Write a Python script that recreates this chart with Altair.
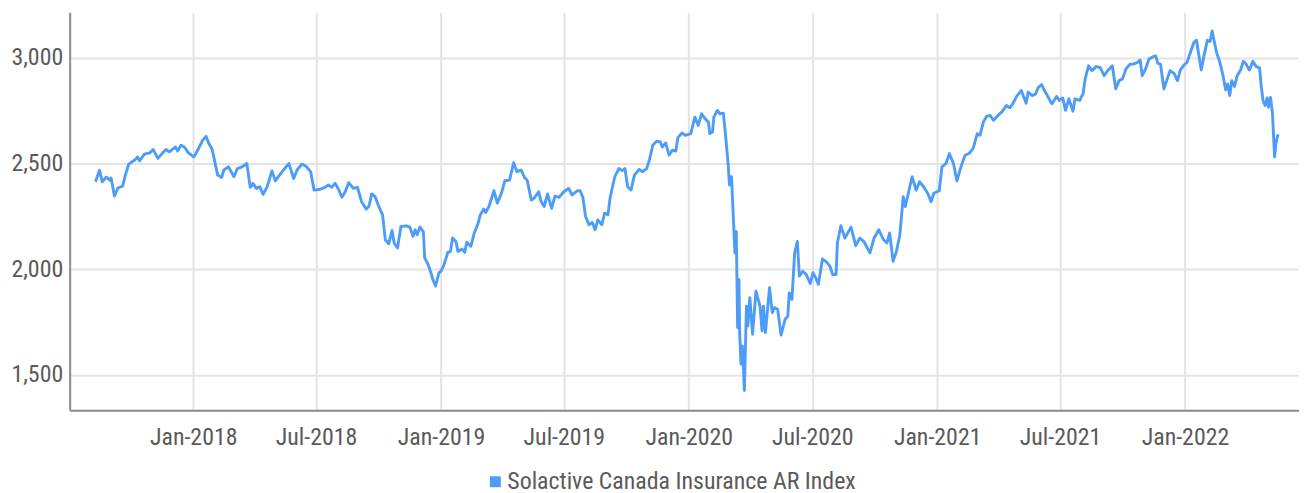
import altair as alt
import pandas as pd

# Day offsets from 2018-01-01 and the index level on each day
day_offsets = [
    -144, -138, -134, -128, -123, -121, -116, -111, -104, -100, -95, -86, -82, -79, -72, -64, -59, -52, -45, -40,
    -35, -26, -23, -18, -13, -7, 1, 6, 14, 19, 23, 28, 36, 42, 45, 52,
    60, 65, 72, 79, 84, 88, 93, 98, 103, 109, 116, 121, 126, 131, 141, 148, 153, 160, 167, 173,
    178, 187, 194, 199, 204, 209, 214, 219, 224, 229, 236, 242, 248, 255, 259, 263, 268, 273, 279,
    283, 288, 293, 296, 301, 306, 314, 319, 324, 327, 330, 334, 339, 341, 346, 351, 353, 357, 362, 365,
    369, 375, 379, 382, 387, 390, 396, 400, 403, 409, 414, 419, 423, 428, 431, 436, 443, 448, 454, 459,
    466, 472, 477, 483, 488, 492, 498, 502,
    509, 512, 517, 522, 528, 533, 539, 546, 553, 558, 566, 570, 574, 578, 583, 588, 592, 596, 602, 606,
    611, 614, 621, 627, 632, 636, 640, 645, 650, 657, 662, 668, 672, 677, 683, 688, 691, 696, 701, 706,
    711, 714, 720, 725, 733,
    739, 744, 749, 754, 759, 761, 765, 767, 772, 776, 781, 784, 788, 790, 793, 795, 798, 800, 802, 804,
    805, 807, 809, 812, 815, 817, 820, 824, 829, 835, 838, 840, 843, 849, 853, 856, 861, 866, 872, 876,
    878, 882, 886, 890, 893, 898, 903, 909, 913, 917, 921, 927, 932, 938, 942, 947, 949, 954, 960,
    969, 976, 982, 988, 997, 1003, 1010, 1017, 1022, 1026, 1031, 1036, 1041, 1046, 1049, 1054, 1059, 1065, 1070, 1076,
    1082, 1087, 1091, 1099, 1103, 1109, 1114, 1120, 1125, 1131, 1137, 1143, 1149, 1155, 1159, 1164, 1169, 1174, 1179, 1187,
    1191, 1198, 1203, 1208, 1213, 1220, 1227, 1230, 1236, 1241, 1245, 1250, 1254, 1259, 1265, 1272, 1276, 1281, 1285, 1290,
    1296, 1299, 1306, 1311, 1314, 1319, 1324, 1330, 1336, 1342, 1347, 1354, 1359, 1364, 1369, 1374, 1380, 1385, 1391, 1395,
    1398, 1403, 1408, 1414,
    1418, 1421, 1425, 1430, 1435, 1439, 1445, 1450, 1454, 1460, 1464, 1469, 1474, 1478, 1482, 1485, 1489, 1494, 1498, 1501,
    1505, 1508, 1512, 1516, 1518, 1521, 1524, 1527, 1530, 1534, 1538, 1543, 1547, 1551, 1556, 1561, 1566, 1571, 1573, 1576,
    1579, 1582, 1584, 1587, 1590, 1593, 1595, 1598,
]

index_values = [
    2413, 2468, 2413, 2436, 2421, 2431, 2346, 2384, 2393, 2445, 2497, 2516, 2531, 2512, 2544, 2550, 2566, 2524, 2550, 2566,
    2555, 2578, 2559, 2586, 2578, 2550, 2531, 2559, 2610, 2628, 2594, 2566, 2445, 2434, 2469, 2484,
    2437, 2476, 2484, 2500, 2387, 2406, 2382, 2390, 2354, 2390, 2465, 2417, 2440, 2461, 2500, 2429, 2469, 2497, 2484, 2461,
    2374, 2378, 2387, 2398, 2387, 2406, 2378, 2340, 2366, 2409, 2382, 2387, 2319, 2284, 2299, 2356, 2343, 2299, 2257,
    2139, 2120, 2183, 2124, 2100, 2202, 2205, 2199, 2155, 2186, 2163, 2199, 2178, 2053, 2022, 1975, 1951, 1920, 1983, 1990,
    2017, 2079, 2084, 2147, 2131, 2084, 2095, 2079, 2127, 2108, 2171, 2210, 2257, 2284, 2268, 2299, 2371, 2312, 2359, 2418,
    2421, 2503, 2461, 2469, 2434, 2421, 2327, 2335,
    2366, 2324, 2296, 2356, 2288, 2346, 2340, 2366, 2382, 2351, 2371, 2371, 2340, 2249, 2210, 2221, 2186, 2233, 2210, 2265,
    2257, 2335, 2437, 2476, 2466, 2476, 2390, 2374, 2445, 2472, 2461, 2476, 2516, 2586, 2606, 2602, 2578, 2597, 2539, 2563,
    2559, 2622, 2644, 2633, 2641,
    2719, 2680, 2735, 2712, 2696, 2641, 2649, 2719, 2751, 2735, 2738, 2641, 2500, 2398, 2437, 2296, 2077, 2178, 1724, 1951,
    1700, 1551, 1637, 1426, 1825, 1731, 1865, 1692, 1896, 1825, 1708, 1825, 1700, 1912, 1794, 1818, 1810, 1688, 1763, 1778,
    1888, 1857, 2077, 2131, 1967, 1990, 1975, 1932, 1983, 1959, 1928, 2048, 2037, 2014, 1975, 1975, 2124, 2205, 2147,
    2199, 2111, 2147, 2131, 2077, 2147, 2186, 2139, 2124, 2171, 2037, 2084, 2163, 2343, 2296, 2366, 2437, 2374, 2413, 2390,
    2359, 2319, 2359, 2371, 2484, 2500, 2547, 2500, 2418, 2484, 2539, 2547, 2571, 2641, 2633, 2696, 2723, 2727, 2704, 2732,
    2743, 2774, 2763, 2785, 2817, 2845, 2785, 2837, 2821, 2829, 2860, 2873, 2845, 2817, 2782, 2817, 2798, 2810, 2751, 2806,
    2747, 2806, 2798, 2832, 2900, 2962, 2939, 2958, 2954, 2915, 2939, 2962, 2853, 2892, 2900, 2947, 2970, 2970, 2978, 2989,
    2915, 2947, 2994, 3005,
    3009, 2973, 2970, 2853, 2900, 2939, 2926, 2892, 2942, 2967, 2978, 3025, 3072, 3083, 3001, 2942, 3009, 3083, 3077, 3127,
    3064, 3020, 2983, 2931, 2900, 2848, 2876, 2821, 2892, 2864, 2915, 2942, 2983, 2970, 2942, 2983, 2958, 2952, 2876, 2798,
    2774, 2810, 2766, 2813, 2735, 2531, 2594, 2638,
]

series_name = "Solactive Canada Insurance AR Index"
y_ticks = [1500, 2000, 2500, 3000]
x_tick_months = [(2018, 1), (2018, 7), (2019, 1), (2019, 7), (2020, 1), (2020, 7), (2021, 1), (2021, 7), (2022, 1)]

base = pd.Timestamp("2018-01-01")
dates = [(base + pd.Timedelta(days=d)).strftime("%Y-%m-%d") for d in day_offsets]
df = pd.DataFrame({"date": dates, "value": index_values, "series": series_name})

FONT = "Roboto Condensed, DejaVu Sans Condensed, Roboto, sans-serif"
LINE_COLOR = "#4c9cf8"
TEXT_COLOR = "#5a5a5a"

x_vals = [alt.DateTime(year=y, month=m, date=1, utc=True) for y, m in x_tick_months]

chart = (
    alt.Chart(df)
    .mark_line(strokeWidth=2.9, strokeJoin="round")
    .encode(
        x=alt.X(
            "date:T",
            title=None,
            scale=alt.Scale(
                type="utc",
                domain=[
                    alt.DateTime(year=2017, month=7, date=3, utc=True),
                    alt.DateTime(year=2022, month=6, date=18, utc=True),
                ],
            ),
            axis=alt.Axis(values=x_vals, format="%b-%Y", labelPadding=16),
        ),
        y=alt.Y(
            "value:Q",
            title=None,
            scale=alt.Scale(domain=[1333, 3215], nice=False, zero=False),
            axis=alt.Axis(values=y_ticks, format=",.0f", labelPadding=7),
        ),
        color=alt.Color(
            "series:N",
            scale=alt.Scale(range=[LINE_COLOR]),
            legend=alt.Legend(
                title=None,
                orient="none",
                legendX=416,
                legendY=460,
                symbolType="square",
                symbolSize=121,
                symbolFillColor=LINE_COLOR,
                symbolStrokeColor=LINE_COLOR,
                symbolStrokeWidth=0,
                symbolOpacity=1,
                labelFont=FONT,
                labelFontSize=24,
                labelColor=TEXT_COLOR,
                labelOffset=0,
                labelLimit=600,
            ),
        ),
    )
    .properties(
        width=1236,
        height=400,
        autosize=alt.AutoSizeParams(type="none"),
        padding={"left": 62, "top": 3, "right": 0, "bottom": 88},
    )
    .configure_view(stroke=None)
    .configure_axis(
        grid=True,
        gridColor="#e4e4e4",
        gridWidth=2,
        domainColor="#8a8a8a",
        domainWidth=2,
        ticks=False,
        labelFont=FONT,
        labelFontSize=24,
        labelColor=TEXT_COLOR,
    )
)

chart.save("out.html", embed_options={"renderer": "svg", "actions": False})
